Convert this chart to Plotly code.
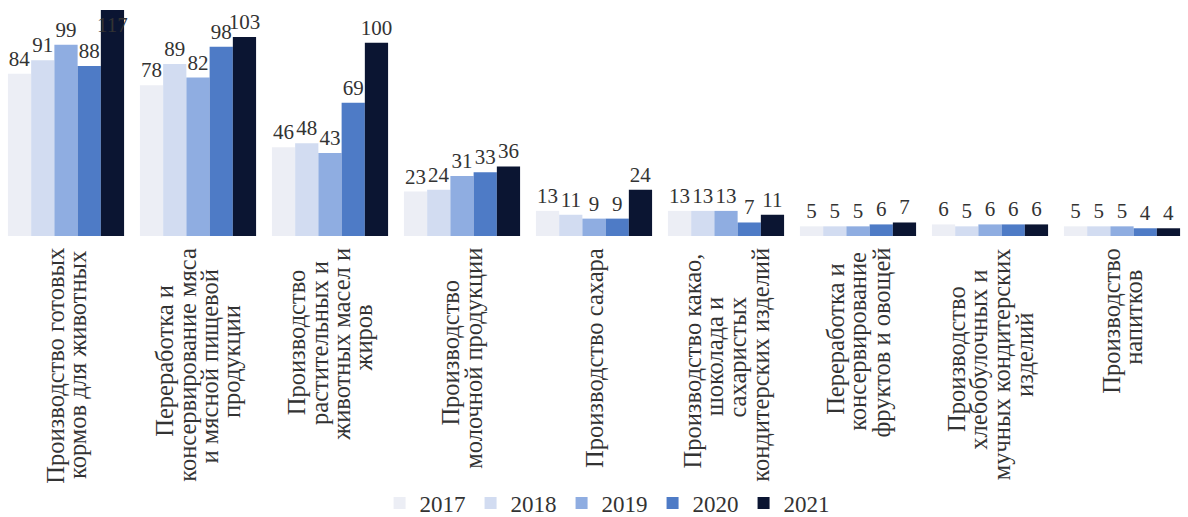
import plotly.graph_objects as go

categories = [
    "Производство готовых<br>кормов для животных",
    "Переработка и<br>консервирование мяса<br>и мясной пищевой<br>продукции",
    "Производство<br>растительных и<br>животных масел и<br>жиров",
    "Производство<br>молочной продукции",
    "Производство сахара",
    "Производство какао,<br>шоколада и<br>сахаристых<br>кондитерских изделий",
    "Переработка и<br>консервирование<br>фруктов и овощей",
    "Производство<br>хлебобулочных и<br>мучных кондитерских<br>изделий",
    "Производство<br>напитков",
]
cat_ids = [f"c{i}" for i in range(len(categories))]

years = ["2017", "2018", "2019", "2020", "2021"]
v2017 = [84, 78, 46, 23, 13, 13, 5, 6, 5]
v2018 = [91, 89, 48, 24, 11, 13, 5, 5, 5]
v2019 = [99, 82, 43, 31, 9, 13, 5, 6, 5]
v2020 = [88, 98, 69, 33, 9, 7, 6, 6, 4]
v2021 = [117, 103, 100, 36, 24, 11, 7, 6, 4]
series = [v2017, v2018, v2019, v2020, v2021]
colors = ["#eceef5", "#d2dcf1", "#8fade1", "#4e7bc6", "#0b1532"]

FONT = "Liberation Serif"
TXT = "#333333"
LABEL_SIZE = 24.5
LINE_STEP = 22.5


def est_width(s, size):
    # rough advance widths (em) for Liberation Serif, used only to centre wrapped lines
    w = 0.0
    for ch in s:
        if ch in " ,.":
            w += 0.25
        elif ch.isupper():
            w += 0.72
        elif ch in "шщжмыюф":
            w += 0.70
        elif ch in "зсгтэ":
            w += 0.42
        else:
            w += 0.5
    return w * size * 0.876


fig = go.Figure()
for yr, vals, col in zip(years, series, colors):
    pos = ["outside"] * len(vals)
    if yr == "2021":
        pos[0] = "inside"
    fig.add_trace(go.Bar(
        name=yr, x=cat_ids, y=vals, marker=dict(color=col, line=dict(width=0)),
        text=[str(v) for v in vals], textposition=pos, textangle=0,
        insidetextanchor="end",
        textfont=dict(family=FONT, size=21, color=TXT),
        insidetextfont=dict(family=FONT, size=21, color=TXT),
        outsidetextfont=dict(family=FONT, size=21, color=TXT),
        cliponaxis=False, constraintext="none",
    ))

for cid, lab in zip(cat_ids, categories):
    lines = lab.split("<br>")
    n = len(lines)
    widths = [est_width(t, LABEL_SIZE) for t in lines]
    wmax = max(widths)
    for j, (t, w) in enumerate(zip(lines, widths)):
        fig.add_annotation(
            x=cid, y=0, xref="x", yref="y", text=t, textangle=-90,
            showarrow=False, xanchor="center", yanchor="top",
            xshift=(j - (n - 1) / 2) * LINE_STEP,
            yshift=-(10 + (wmax - w) / 2),
            font=dict(family=FONT, size=LABEL_SIZE, color=TXT),
        )

fig.update_layout(
    width=1188, height=517,
    margin=dict(l=0, r=0, t=10, b=281, autoexpand=False),
    paper_bgcolor="white", plot_bgcolor="white",
    barmode="group", bargap=0.12, bargroupgap=0,
    showlegend=True,
    legend=dict(orientation="h", x=0.511, xanchor="center",
                yref="container", y=0.027, yanchor="middle",
                font=dict(family=FONT, size=23, color=TXT), itemwidth=30),
    xaxis=dict(showticklabels=False, showgrid=False, zeroline=False, showline=False,
               ticks="", range=[-0.5, 8.5]),
    yaxis=dict(range=[0, 117], visible=False, showgrid=False, zeroline=False),
    font=dict(family=FONT),
)

fig.write_html("out.html", config={"displayModeBar": False},
               post_script="document.body.style.margin='0px';")
